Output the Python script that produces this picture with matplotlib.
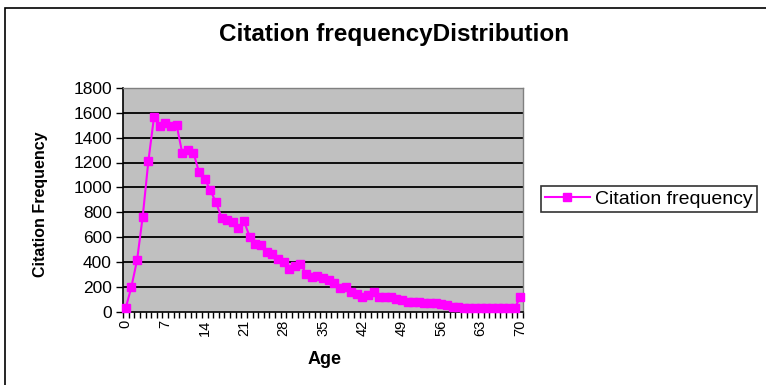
import numpy as np
import matplotlib
matplotlib.use('Agg')
import matplotlib.pyplot as plt
from matplotlib.patches import Rectangle

plt.rcParams['font.family'] = ['Liberation Sans', 'DejaVu Sans']

# ages 0..70 and citation counts
ages = list(range(71))
citations = [30, 200, 415, 765, 1210, 1565, 1495, 1515, 1495, 1505,
             1280, 1300, 1280, 1120, 1070, 975, 880, 755, 740, 720,
             675, 725, 600, 545, 535, 480, 465, 420, 400, 340,
             370, 385, 305, 280, 285, 270, 255, 230, 190, 200,
             160, 140, 115, 130, 155, 115, 120, 115, 100, 90,
             80, 80, 75, 70, 65, 65, 60, 50, 40, 35,
             30, 25, 25, 25, 25, 25, 25, 25, 25, 25,
             115]
ytick_vals = list(range(0, 1801, 200))
xtick_vals = list(range(0, 71, 7))

fig = plt.figure(figsize=(7.66, 3.85), dpi=100)
fig.patch.set_facecolor('white')

# outer chart border (only top and left visible in the crop)
fig.add_artist(Rectangle((5/766, -0.2), 1.5, 1 - 8/385 + 0.2, transform=fig.transFigure,
                         fill=False, edgecolor='black', linewidth=1.2))

ax = fig.add_axes([123/766, 1 - 311.5/385, 400/766, 223.5/385])
ax.set_facecolor('#C0C0C0')

for v in ytick_vals[1:]:
    ax.axhline(v, color='black', linewidth=1.3, zorder=1)

ax.plot(ages, citations, color='#FF00FF', marker='s', markersize=6,
        linewidth=1.5, label='Citation frequency', zorder=3, clip_on=False)

ax.set_xlim(-0.5, 70.5)
ax.set_ylim(0, 1800)

ax.set_yticks(ytick_vals)
ax.tick_params(axis='y', direction='out', length=5, width=1, labelsize=12.5, pad=3)

ax.set_xticks(xtick_vals)
ax.set_xticklabels([str(v) for v in xtick_vals], rotation=90)
ax.set_xticks(np.arange(-0.5, 71, 1), minor=True)
ax.tick_params(axis='x', which='major', length=0, labelsize=10.5, pad=6)
ax.tick_params(axis='x', which='minor', direction='out', length=4, width=1)

for s in ['top', 'right']:
    ax.spines[s].set_color('#808080')
    ax.spines[s].set_linewidth(1)
for s in ['left', 'bottom']:
    ax.spines[s].set_color('black')
    ax.spines[s].set_linewidth(1.2)

ax.set_xlabel('Age', fontsize=13, fontweight='bold')
ax.xaxis.set_label_coords((325 - 123) / 400, -(360 - 311.5) / 223.5)
ax.xaxis.label.set_va('center')
ax.set_ylabel('Citation Frequency', fontsize=11.5, fontweight='bold')
ax.yaxis.set_label_coords((41 - 123) / 400, 0.48)
ax.yaxis.label.set_va('center')

fig.text(394/766, 1 - 34/385, 'Citation frequencyDistribution', ha='center', va='center',
         fontsize=17.5, fontweight='bold')

leg = ax.legend(loc='center left', bbox_to_anchor=(541/766, 1 - 199/385),
                bbox_transform=fig.transFigure, fontsize=14, frameon=True,
                fancybox=False, borderpad=0.2, handlelength=2.3, handletextpad=0.3,
                borderaxespad=0)
leg.get_frame().set_edgecolor('black')
leg.get_frame().set_linewidth(1.2)

fig.savefig('out.png', dpi=100)
